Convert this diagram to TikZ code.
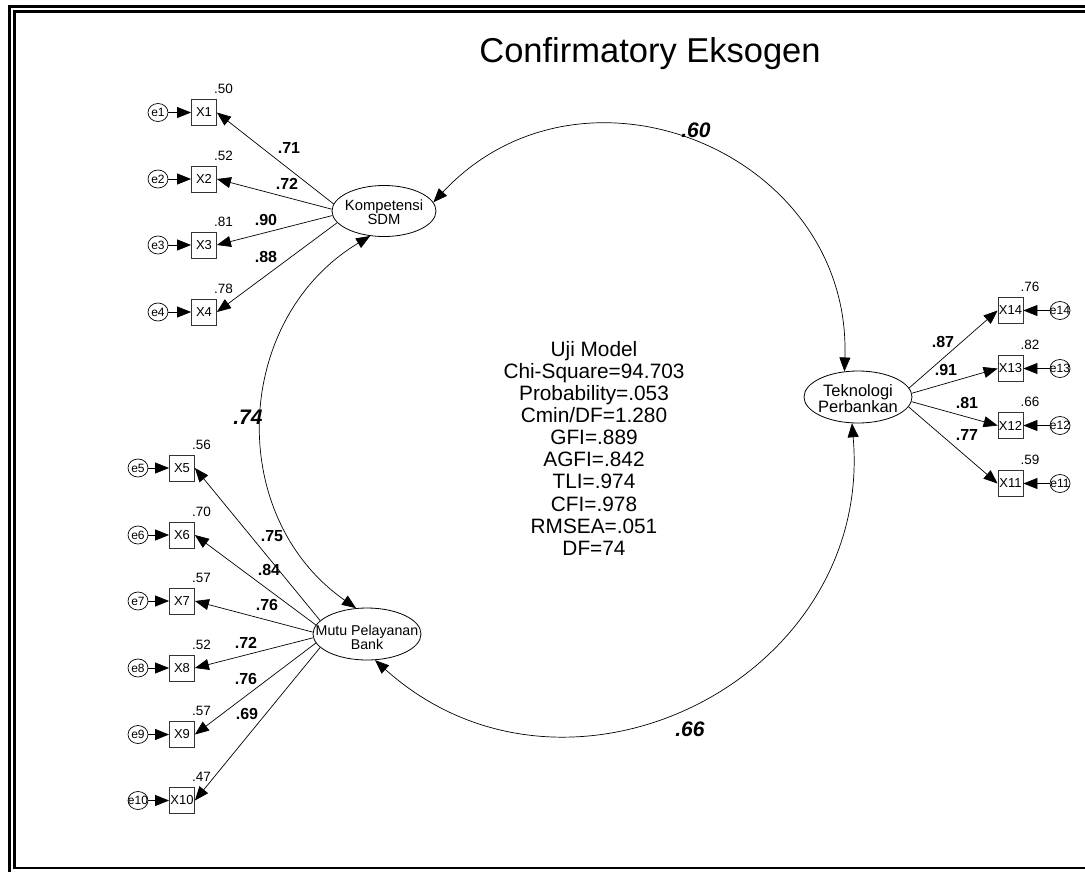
\documentclass[tikz,border=0pt]{standalone}
\usepackage{fontspec}
\setmainfont{Liberation Sans}
\usetikzlibrary{arrows.meta,shapes.geometric}

\begin{document}
\begin{tikzpicture}[x=1pt,y=1pt,
    latent/.style={draw,ellipse,line width=0.8pt,inner sep=0pt,minimum width=108pt,minimum height=52pt},
    obsbox/.style={draw=black!80,line width=0.8pt,inner sep=0pt,minimum width=25pt,minimum height=26pt,font=\fontsize{13}{13}\selectfont},
    errnode/.style={draw,ellipse,line width=0.7pt,inner sep=0pt,minimum width=20pt,minimum height=18pt,label={[font=\fontsize{12}{12}\selectfont]center:#1}},
    load/.style={-{Triangle[length=14pt,width=11pt]},line width=0.7pt},
    cov/.style={{Triangle[length=14pt,width=11pt]}-{Triangle[length=14pt,width=11pt]},line width=0.7pt},
    loadlbl/.style={font=\bfseries\fontsize{16}{16}\selectfont,inner sep=0pt},
    varlbl/.style={font=\fontsize{13.5}{13.5}\selectfont,inner sep=0pt,anchor=south west},
    covlbl/.style={font=\bfseries\itshape\fontsize{21}{21}\selectfont,inner sep=0pt}]
  \useasboundingbox (0,0) rectangle (1085,-871);
  \begin{scope}
    \clip (0,0) rectangle (1085,-871);
    \draw[line width=3pt] (9,-6) rectangle (1100,-890);
    \draw[line width=2.5pt] (14.5,-11.5) rectangle (1095,-868);
  \end{scope}
  \node[font=\fontsize{34.5}{34.5}\selectfont,anchor=base] (title) at (650,-62) {Confirmatory Eksogen};
  \node[font=\fontsize{20.8}{22.1}\selectfont,align=center] (fit) at (594,-448.3) {Uji Model\\Chi-Square=94.703\\Probability=.053\\Cmin/DF=1.280\\GFI=.889\\AGFI=.842\\TLI=.974\\CFI=.978\\RMSEA=.051\\DF=74};

  \node[latent,minimum width=104pt,minimum height=51pt,label={[align=center,yshift=-1.5pt,font=\fontsize{14.8}{13.6}\selectfont]center:Kompetensi\\SDM}] (ksdm) at (384,-211) {};
  \node[latent,label={[align=center,yshift=-3.3pt,font=\fontsize{14.2}{13.3}\selectfont]center:Mutu Pelayanan\\Bank}] (mutu) at (367,-634) {};
  \node[latent,label={[align=center,yshift=-1.3pt,font=\fontsize{16.5}{14}\selectfont]center:Teknologi\\Perbankan}] (tek) at (858,-397) {};

  \node[obsbox] (x1) at (204,-112.5) {X1};
  \node[obsbox] (x2) at (204,-179) {X2};
  \node[obsbox] (x3) at (204,-245) {X3};
  \node[obsbox] (x4) at (204,-312) {X4};
  \node[errnode=e1] (e1) at (158,-112.5) {};
  \node[errnode=e2] (e2) at (158,-179) {};
  \node[errnode=e3] (e3) at (158,-245) {};
  \node[errnode=e4] (e4) at (158,-312) {};
  \node[varlbl] (v1) at ([shift={(-3pt,5pt)}]x1.north east) {.50};
  \node[varlbl] (v2) at ([shift={(-3pt,5pt)}]x2.north east) {.52};
  \node[varlbl] (v3) at ([shift={(-3pt,5pt)}]x3.north east) {.81};
  \node[varlbl] (v4) at ([shift={(-3pt,5pt)}]x4.north east) {.78};

  \node[obsbox] (x5) at (182,-468) {X5};
  \node[obsbox] (x6) at (182,-535) {X6};
  \node[obsbox] (x7) at (182,-601) {X7};
  \node[obsbox] (x8) at (182,-668) {X8};
  \node[obsbox] (x9) at (182,-734.5) {X9};
  \node[obsbox] (x10) at (182,-800.5) {X10};
  \node[errnode=e5] (e5) at (138,-468) {};
  \node[errnode=e6] (e6) at (138,-535) {};
  \node[errnode=e7] (e7) at (138,-601) {};
  \node[errnode=e8] (e8) at (138,-668) {};
  \node[errnode=e9] (e9) at (138,-734.5) {};
  \node[errnode=e10] (e10) at (138,-800.5) {};
  \node[varlbl] (v5) at ([shift={(-3pt,5pt)}]x5.north east) {.56};
  \node[varlbl] (v6) at ([shift={(-3pt,5pt)}]x6.north east) {.70};
  \node[varlbl] (v7) at ([shift={(-3pt,5pt)}]x7.north east) {.57};
  \node[varlbl] (v8) at ([shift={(-3pt,5pt)}]x8.north east) {.52};
  \node[varlbl] (v9) at ([shift={(-3pt,5pt)}]x9.north east) {.57};
  \node[varlbl] (v10) at ([shift={(-3pt,5pt)}]x10.north east) {.47};

  \node[obsbox] (x14) at (1010.5,-310.5) {X14};
  \node[obsbox] (x13) at (1010.5,-368.5) {X13};
  \node[obsbox] (x12) at (1010.5,-425.5) {X12};
  \node[obsbox] (x11) at (1010.5,-483.5) {X11};
  \node[errnode=e14] (e14) at (1060,-310.5) {};
  \node[errnode=e13] (e13) at (1060,-368.5) {};
  \node[errnode=e12] (e12) at (1060,-425.5) {};
  \node[errnode=e11] (e11) at (1060,-483.5) {};
  \node[varlbl] (v14) at ([shift={(-3pt,5pt)}]x14.north east) {.76};
  \node[varlbl] (v13) at ([shift={(-3pt,5pt)}]x13.north east) {.82};
  \node[varlbl] (v12) at ([shift={(-3pt,5pt)}]x12.north east) {.66};
  \node[varlbl] (v11) at ([shift={(-3pt,5pt)}]x11.north east) {.59};

  \draw[load] (e1) -- (x1);
  \draw[load] (e2) -- (x2);
  \draw[load] (e3) -- (x3);
  \draw[load] (e4) -- (x4);
  \draw[load] (e5) -- (x5);
  \draw[load] (e6) -- (x6);
  \draw[load] (e7) -- (x7);
  \draw[load] (e8) -- (x8);
  \draw[load] (e9) -- (x9);
  \draw[load] (e10) -- (x10);
  \draw[load] (e14) -- (x14);
  \draw[load] (e13) -- (x13);
  \draw[load] (e12) -- (x12);
  \draw[load] (e11) -- (x11);

  \draw[load] (ksdm.172) -- (x1.east);
  \draw[load] (ksdm.178) -- (x2.east);
  \draw[load] (ksdm.185) -- (x3.east);
  \draw[load] (ksdm.194) -- (x4.east);
  \draw[load] (mutu.164) -- (x5.east);
  \draw[load] (mutu.170) -- (x6.east);
  \draw[load] (mutu.178) -- (x7.east);
  \draw[load] (mutu.184) -- (x8.east);
  \draw[load] (mutu.190) -- (x9.east);
  \draw[load] (mutu.196) -- (x10.east);
  \draw[load] (tek.10) -- (x14.west);
  \draw[load] (tek.4) -- (x13.west);
  \draw[load] (tek.-5) -- (x12.west);
  \draw[load] (tek.-11) -- (x11.west);

  \node[loadlbl] (l1) at (289,-148) {.71};
  \node[loadlbl] (l2) at (287,-184) {.72};
  \node[loadlbl] (l3) at (266,-220) {.90};
  \node[loadlbl] (l4) at (266,-257) {.88};
  \node[loadlbl] (l5) at (272,-536) {.75};
  \node[loadlbl] (l6) at (269,-570) {.84};
  \node[loadlbl] (l7) at (267,-605) {.76};
  \node[loadlbl] (l8) at (246,-643) {.72};
  \node[loadlbl] (l9) at (246,-679) {.76};
  \node[loadlbl] (l10) at (247,-714) {.69};
  \node[loadlbl] (l14) at (943,-342) {.87};
  \node[loadlbl] (l13) at (946,-370) {.91};
  \node[loadlbl] (l12) at (967,-403) {.81};
  \node[loadlbl] (l11) at (967,-435) {.77};

  \draw[cov] (ksdm.10) to[out=47,in=88,looseness=1.26] (tek.118);
  \draw[cov] (ksdm.241) to[out=211,in=145,looseness=1.10] (mutu.113);
  \draw[cov] (mutu.-73) to[out=-42,in=-85,looseness=1.24] (tek.-103);
  \node[covlbl] (c1) at (696,-130) {.60};
  \node[covlbl] (c2) at (248,-417) {.74};
  \node[covlbl] (c3) at (690,-729) {.66};
\end{tikzpicture}
\end{document}
